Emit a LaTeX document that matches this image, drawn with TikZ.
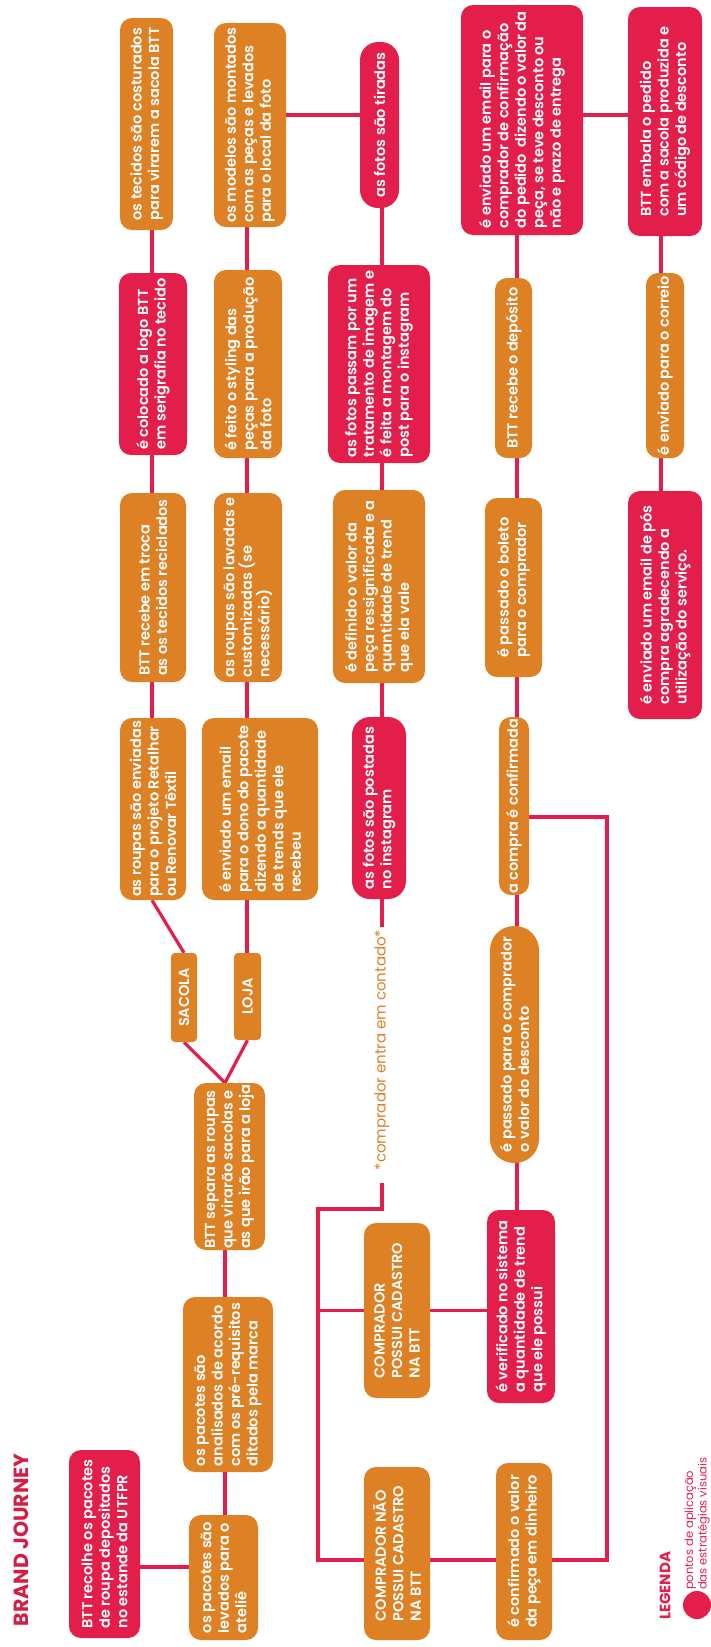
\documentclass[tikz,border=0pt]{standalone}
\usepackage{fontspec}
\setmainfont{Poppins}
\newfontfamily\boxfont{Poppins SemiBold}
\newfontfamily\headfont{Poppins Bold}
\usetikzlibrary{backgrounds}

\definecolor{bjred}{RGB}{228,30,75}
\definecolor{bjorange}{RGB}{222,128,36}
\definecolor{bjtitle}{RGB}{214,28,68}

\tikzset{
  card/.style={rotate=90, rounded corners=12pt, inner sep=0pt, align=left,
    text=white, font=\boxfont\fontsize{14.5}{17.5}\selectfont},
  redcard/.style={card, fill=bjred},
  orangecard/.style={card, fill=bjorange},
  sz/.style 2 args={minimum width=#1pt, minimum height=#2pt},
  link/.style={draw=bjred, line width=3.2pt},
}

\begin{document}
\begin{tikzpicture}[x=1pt, y=-1pt]
\useasboundingbox (0,0) rectangle (710,1647);

% title
\node[rotate=90, text=bjtitle, font=\headfont\fontsize{20.5}{20.5}\selectfont] (title) at (21,1540) {BRAND JOURNEY};

% collection and sorting
\node[redcard, sz={188}{71}] (recolhe) at (104.5,1544) {BTT recolhe os pacotes\\de roupa depositados\\no estande da UTFPR};
\node[orangecard, sz={125}{69}] (levados) at (223.5,1577.5) {os pacotes são\\levados para o\\ateliê};
\node[orangecard, sz={175}{90}] (analisados) at (228,1384.5) {os pacotes são\\analisados de acordo\\com os pré-requisitos\\ditados pela marca};
\node[orangecard, sz={167}{71}] (separa) at (229.5,1166.5) {BTT separa as roupas\\que virarão sacolas e\\as que irão para a loja};
\node[orangecard, sz={89}{26}, rounded corners=4pt] (sacola) at (184,997.5) {SACOLA};
\node[orangecard, sz={87}{27}, rounded corners=4pt] (loja) at (247.5,996.5) {LOJA};

% bag branch
\node[orangecard, sz={182}{66}] (enviadas) at (153,809) {as roupas são enviadas\\para o projeto Retalhar\\ou Renovar Têxtil};
\node[orangecard, sz={189}{66}] (troca) at (153,587.5) {BTT recebe em troca\\as os tecidos reciclados};
\node[redcard, sz={182}{68}] (colocado) at (153,364) {é colocado a logo BTT\\em serigrafia no tecido};
\node[orangecard, sz={212}{53}] (tecidos) at (146.5,124) {os tecidos são costurados\\para virarem a sacola BTT};

% shop branch
\node[orangecard, sz={182}{116}] (dono) at (260,809) {é enviado um email\\para o dono do pacote\\dizendo a quantidade\\de trends que ele\\recebeu};
\node[orangecard, sz={189}{68}] (lavadas) at (248,587.5) {as roupas são lavadas e\\customizadas (se\\necessário)};
\node[orangecard, sz={188}{68}] (styling) at (248,364) {é feito o styling das\\peças para a produção\\da foto};
\node[orangecard, sz={204}{72}] (modelos) at (250,125) {os modelos são montados\\com as peças e levados\\para o local da foto};

% photos
\node[redcard, sz={166}{39}, rounded corners=18pt] (tiradas) at (379.5,125) {as fotos são tiradas};
\node[redcard, sz={198}{102}] (passam) at (379,364) {as fotos passam por um\\tratamento de imagem e\\é feita a montagem do\\post para o instagram};
\node[orangecard, sz={193}{92}] (definido) at (379,586.5) {é definido o valor da\\peça ressignificada e a\\quantidade de trend\\que ela vale};
\node[redcard, sz={182}{54}, rounded corners=18pt] (postadas) at (379,808) {as fotos são postadas\\no instagram};
\coordinate (postend) at (382,927);
\node[rotate=90, text=bjorange, font=\fontsize{15}{17}\selectfont] (contato) at (382,1050) {*comprador entra em contado*};

% buyer
\node[orangecard, sz={175}{66}] (possui) at (397,1310.5) {COMPRADOR\\POSSUI CADASTRO\\NA BTT};
\node[orangecard, sz={173}{66}] (nao) at (397,1553.5) {COMPRADOR NÃO\\POSSUI CADASTRO\\NA BTT};
\node[redcard, sz={193}{68}] (verificado) at (521,1306.5) {é verificado no sistema\\a quantidade de trend\\que ele possui};
\node[orangecard, sz={237}{49}, rounded corners=24pt] (desconto) at (514.5,1044.5) {é passado para o comprador\\o valor do desconto};
\node[orangecard, sz={177}{56}] (dinheiro) at (524,1551.5) {é confirmado o valor\\da peça em dinheiro};
\node[orangecard, sz={178}{30}] (confirmada) at (514,806) {a compra é confirmada};
\node[orangecard, sz={179}{57}] (boleto) at (513.5,587.5) {é passado o boleto\\para o comprador};
\node[orangecard, sz={180}{37}] (deposito) at (513.5,368) {BTT recebe o depósito};
\node[redcard, sz={230}{122}] (emailconf) at (522,120) {é enviado um email para o\\comprador de confirmação\\do pedido\ \ dizendo o valor da\\peça, se teve desconto ou\\não e prazo de entrega};

% shipping
\node[redcard, sz={229}{74}] (embala) at (665,121.5) {BTT embala o pedido\\com a sacola produzida e\\um código de desconto};
\node[orangecard, sz={185}{38}] (correio) at (665,365.5) {é enviado para o correio};
\node[redcard, sz={228}{74}] (pos) at (665,605) {é enviado um email de pós\\compra agradecendo a\\utilização do serviço.};

% legend
\node[rotate=90, anchor=west, inner sep=0pt, text=bjred, font=\headfont\fontsize{15}{16}\selectfont] (legenda) at (665,1620) {LEGENDA};
\fill[bjred] (697,1605) circle (14pt);
\node[rotate=90, anchor=west, inner sep=0pt, align=left, text=bjred, font=\fontsize{11.5}{13.5}\selectfont] (legtext) at (697,1590) {pontos de aplicação\\das estratégias visuais};

% rails for the connectors
\coordinate (rA) at (152,0);
\coordinate (rB) at (247,0);
\coordinate (rC) at (382,0);
\coordinate (rD) at (517,0);
\coordinate (rE) at (661,0);
\coordinate (rF) at (225,0);
\coordinate (hA) at (0,115);
\coordinate (hB) at (0,1567);
\coordinate (loopA) at (318,1209);
\coordinate (loopB) at (318,1560);
\coordinate (loopC) at (607,1560);
\coordinate (loopD) at (607,817);

\begin{scope}[on background layer]
  \draw[link] (recolhe |- hB) -- (levados |- hB);
  \draw[link] (levados -| rF) -- (analisados -| rF);
  \draw[link] (analisados -| rF) -- (separa -| rF);
  \draw[link] (sacola.west) -- (separa.east -| rF) -- (loja.west);
  \draw[link] (sacola.east) -- (enviadas.west -| rA);
  \draw[link] (loja -| rB) -- (dono -| rB);
  \draw[link] (enviadas -| rA) -- (troca -| rA);
  \draw[link] (troca -| rA) -- (colocado -| rA);
  \draw[link] (colocado -| rA) -- (tecidos -| rA);
  \draw[link] (dono -| rB) -- (lavadas -| rB);
  \draw[link] (lavadas -| rB) -- (styling -| rB);
  \draw[link] (styling -| rB) -- (modelos -| rB);
  \draw[link] (modelos |- hA) -- (tiradas |- hA);
  \draw[link] (tiradas -| rC) -- (passam -| rC);
  \draw[link] (passam -| rC) -- (definido -| rC);
  \draw[link] (definido -| rC) -- (postadas -| rC);
  \draw[link] (postadas -| rC) -- (postend);
  \draw[link, shorten <=9pt] (contato.west) |- (loopA) -- (loopB) -- (loopC) -- (loopD) -- (loopD -| confirmada);
  \draw[link] (possui) -- (possui -| loopA);
  \draw[link] (possui) -- (possui -| verificado);
  \draw[link] (verificado -| rD) -- (desconto -| rD);
  \draw[link] (desconto -| rD) -- (confirmada -| rD);
  \draw[link] (confirmada -| rD) -- (boleto -| rD);
  \draw[link] (boleto -| rD) -- (deposito -| rD);
  \draw[link] (deposito -| rD) -- (emailconf -| rD);
  \draw[link] (emailconf |- hA) -- (embala |- hA);
  \draw[link] (embala -| rE) -- (correio -| rE);
  \draw[link] (correio -| rE) -- (pos -| rE);
\end{scope}
\end{tikzpicture}
\end{document}
